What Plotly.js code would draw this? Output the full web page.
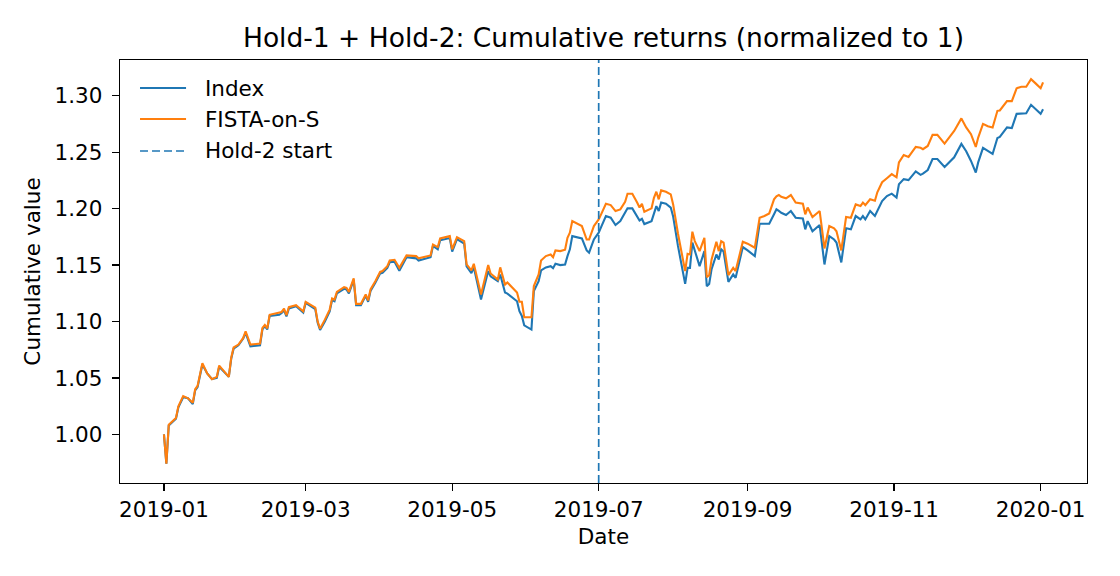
<!DOCTYPE html>
<html>
<head>
<meta charset="utf-8">
<script src="https://cdn.plot.ly/plotly-3.0.1.min.js"></script>
<style>
  html, body { margin: 0; padding: 0; background: #ffffff; }
  #chart { width: 1120px; height: 576px; }
</style>
</head>
<body>
<div id="chart"></div>
<script>
const dates = [
  "2019-01-01","2019-01-02","2019-01-03","2019-01-06","2019-01-07","2019-01-09","2019-01-11","2019-01-13","2019-01-14","2019-01-15",
  "2019-01-17","2019-01-19","2019-01-21","2019-01-23","2019-01-24","2019-01-26","2019-01-28","2019-01-29","2019-01-30","2019-02-01",
  "2019-02-03","2019-02-04","2019-02-06","2019-02-10","2019-02-11","2019-02-12","2019-02-13","2019-02-14","2019-02-18","2019-02-19",
  "2019-02-20","2019-02-21","2019-02-22","2019-02-25","2019-02-26","2019-02-28","2019-03-01","2019-03-05","2019-03-06","2019-03-07",
  "2019-03-09","2019-03-11","2019-03-12","2019-03-13","2019-03-14","2019-03-17","2019-03-18","2019-03-19","2019-03-21","2019-03-22",
  "2019-03-24","2019-03-26","2019-03-27","2019-03-28","2019-03-30","2019-04-01","2019-04-02","2019-04-04","2019-04-05","2019-04-07",
  "2019-04-09","2019-04-10","2019-04-12","2019-04-16","2019-04-17","2019-04-22","2019-04-23","2019-04-25","2019-04-26","2019-04-30",
  "2019-05-01","2019-05-03","2019-05-06","2019-05-07","2019-05-09","2019-05-10","2019-05-13","2019-05-16","2019-05-17","2019-05-20",
  "2019-05-21","2019-05-23","2019-05-24","2019-05-28","2019-05-29","2019-05-30","2019-05-31","2019-06-03","2019-06-04","2019-06-06",
  "2019-06-07","2019-06-09","2019-06-11","2019-06-12","2019-06-13","2019-06-15","2019-06-17","2019-06-18","2019-06-19","2019-06-20",
  "2019-06-24","2019-06-26","2019-06-27","2019-06-29","2019-07-01","2019-07-02","2019-07-04","2019-07-06","2019-07-08","2019-07-10",
  "2019-07-12","2019-07-13","2019-07-15","2019-07-17","2019-07-18","2019-07-19","2019-07-20","2019-07-23","2019-07-24","2019-07-25",
  "2019-07-26","2019-07-27","2019-07-29","2019-07-31","2019-08-01","2019-08-03","2019-08-06","2019-08-07","2019-08-08","2019-08-09",
  "2019-08-10","2019-08-12","2019-08-14","2019-08-15","2019-08-16","2019-08-17","2019-08-19","2019-08-20","2019-08-21","2019-08-22",
  "2019-08-24","2019-08-26","2019-08-27","2019-08-30","2019-09-01","2019-09-04","2019-09-06","2019-09-08","2019-09-10","2019-09-12",
  "2019-09-13","2019-09-14","2019-09-15","2019-09-17","2019-09-19","2019-09-21","2019-09-24","2019-09-25","2019-09-26","2019-09-28",
  "2019-10-01","2019-10-03","2019-10-05","2019-10-07","2019-10-08","2019-10-10","2019-10-12","2019-10-14","2019-10-16","2019-10-18",
  "2019-10-19","2019-10-20","2019-10-22","2019-10-24","2019-10-25","2019-10-26","2019-10-27","2019-10-29","2019-10-31","2019-11-02",
  "2019-11-03","2019-11-05","2019-11-07","2019-11-10","2019-11-12","2019-11-13","2019-11-15","2019-11-17","2019-11-19","2019-11-22",
  "2019-11-26","2019-11-29","2019-12-01","2019-12-03","2019-12-05","2019-12-06","2019-12-08","2019-12-10","2019-12-12","2019-12-14",
  "2019-12-15","2019-12-18","2019-12-20","2019-12-22","2019-12-24","2019-12-26","2019-12-28","2019-12-30","2020-01-01","2020-01-02"
];

const fistaValues = [
  1.000,0.974,1.0086,1.0145,1.025,1.034,1.032,1.028,1.040,1.043,
  1.063,1.054,1.049,1.051,1.061,1.056,1.051,1.068,1.077,1.0796,
  1.0855,1.0914,1.0796,1.0805,1.0943,1.097,1.094,1.106,1.1076,1.1085,
  1.1115,1.1056,1.1127,1.1145,1.1127,1.109,1.1175,1.1124,1.100,1.0937,
  1.1017,1.1106,1.1204,1.1195,1.1263,1.1305,1.1299,1.1263,1.1382,1.1157,
  1.1157,1.124,1.1187,1.1284,1.1358,1.144,1.1447,1.1491,1.1541,1.1547,
  1.1476,1.1512,1.1586,1.158,1.156,1.1586,1.1683,1.166,1.1737,1.1757,
  1.164,1.1748,1.1713,1.1506,1.1453,1.1512,1.124,1.150,1.1426,1.1373,
  1.148,1.1328,1.1346,1.1257,1.1175,1.1175,1.1038,1.1038,1.1314,1.1417,
  1.1541,1.158,1.1594,1.157,1.163,1.1624,1.1636,1.1742,1.1787,1.189,
  1.1846,1.1727,1.1727,1.1846,1.1905,1.195,1.2044,1.2032,1.1979,1.1994,
  1.2062,1.2133,1.2133,1.2054,1.201,1.2044,1.1973,1.2003,1.2097,1.215,
  1.2083,1.2162,1.215,1.2127,1.2038,1.178,1.1447,1.160,1.1594,1.1796,
  1.1713,1.1624,1.1742,1.1393,1.141,1.155,1.1707,1.1624,1.1713,1.170,
  1.1411,1.1476,1.1447,1.1707,1.169,1.1654,1.192,1.1935,1.1958,1.2083,
  1.211,1.2121,1.2105,1.2092,1.2121,1.2054,1.2044,1.195,1.201,1.1926,
  1.1979,1.1648,1.1846,1.1826,1.180,1.163,1.1926,1.192,1.2038,1.2023,
  1.2054,1.2032,1.2083,1.207,1.2145,1.219,1.2234,1.227,1.2306,1.2278,
  1.241,1.2476,1.2459,1.2547,1.254,1.2527,1.2556,1.2654,1.2654,1.2577,
  1.2689,1.280,1.272,1.266,1.2547,1.263,1.2751,1.273,1.272,1.2867,
  1.287,1.2953,1.2953,1.3067,1.308,1.308,1.3147,1.3108,1.3067,1.312
];

const indexValues = [
  1.000,0.974,1.008,1.014,1.024,1.033,1.032,1.027,1.039,1.042,
  1.062,1.054,1.049,1.050,1.060,1.055,1.051,1.067,1.076,1.079,
  1.085,1.090,1.078,1.079,1.093,1.096,1.093,1.105,1.106,1.1075,
  1.110,1.1045,1.1115,1.1135,1.1115,1.108,1.1165,1.111,1.099,1.0925,
  1.100,1.109,1.119,1.118,1.125,1.129,1.1285,1.125,1.137,1.1145,
  1.1145,1.123,1.1175,1.127,1.1345,1.1425,1.1432,1.1475,1.1525,1.153,
  1.145,1.149,1.157,1.156,1.154,1.157,1.167,1.164,1.172,1.174,
  1.162,1.173,1.169,1.149,1.143,1.148,1.1195,1.1447,1.140,1.1358,
  1.1417,1.1257,1.1248,1.118,1.1092,1.105,1.0967,1.0929,1.127,1.1358,
  1.1453,1.148,1.1491,1.1473,1.1512,1.150,1.1506,1.158,1.164,1.1757,
  1.1737,1.163,1.161,1.1727,1.1787,1.1837,1.1935,1.192,1.1855,1.189,
  1.1958,1.2003,1.2003,1.193,1.1896,1.191,1.1864,1.189,1.196,1.2023,
  1.1979,1.2054,1.2044,1.201,1.193,1.167,1.1334,1.1476,1.1476,1.170,
  1.163,1.1491,1.1624,1.1314,1.1334,1.1464,1.1594,1.155,1.164,1.162,
  1.1352,1.1417,1.1387,1.166,1.163,1.158,1.1867,1.1867,1.1867,1.195,
  1.1994,1.198,1.1964,1.1944,1.1979,1.192,1.1914,1.1817,1.189,1.180,
  1.1855,1.1506,1.1757,1.1727,1.170,1.1524,1.1826,1.1817,1.1935,1.1905,
  1.1935,1.1905,1.1979,1.1935,1.198,1.2038,1.2068,1.2112,1.2133,1.2098,
  1.2217,1.2262,1.2253,1.233,1.230,1.231,1.2343,1.244,1.244,1.237,
  1.2455,1.2574,1.2509,1.2423,1.232,1.241,1.2539,1.2512,1.2485,1.2627,
  1.2636,1.272,1.2714,1.284,1.2843,1.2845,1.292,1.288,1.284,1.288
];

const hold2Start = "2019-07-01";
const seriesNames = ["Index", "FISTA-on-S", "Hold-2 start"];
const xTickVals = ["2019-01-01","2019-03-01","2019-05-01","2019-07-01","2019-09-01","2019-11-01","2020-01-01"];
const xTickText = ["2019-01","2019-03","2019-05","2019-07","2019-09","2019-11","2020-01"];
const yTickVals = [1.00,1.05,1.10,1.15,1.20,1.25,1.30];

// axis ranges with 5% padding (matplotlib-like margins), computed from data
const tms = dates.map(d => new Date(d + "T00:00:00Z").getTime());
const tMin = Math.min(...tms), tMax = Math.max(...tms);
const tPad = (tMax - tMin) * 0.05;
const toIso = t => new Date(t).toISOString().slice(0, 19).replace("T", " ");
const allY = fistaValues.concat(indexValues);
const yMin = Math.min(...allY), yMax = Math.max(...allY);
const yPad = (yMax - yMin) * 0.05;
const yRange = [yMin - yPad, yMax + yPad];

const FONT = "DejaVu Sans, Verdana, sans-serif";
const FS = 21.5;
const colors = ["#1f77b4", "#ff7f0e", "#1f77b4"];
const dashes = ["solid", "solid", "8px,4px"];
const widths = [2.1, 2.1, 1.7];

const traces = [
  { x: dates, y: indexValues, type: "scatter", mode: "lines", name: seriesNames[0],
    line: { color: colors[0], width: widths[0] }, showlegend: false },
  { x: dates, y: fistaValues, type: "scatter", mode: "lines", name: seriesNames[1],
    line: { color: colors[1], width: widths[1] }, showlegend: false },
  { x: [hold2Start, hold2Start], y: yRange, type: "scatter", mode: "lines", name: seriesNames[2],
    line: { color: colors[2], width: widths[2], dash: dashes[2] }, showlegend: false }
];

// hand-placed legend (upper left, no frame), like matplotlib
const legRowsY = [0.9338, 0.8605, 0.7849];
const shapes = [], annotations = [];
seriesNames.forEach((nm, i) => {
  shapes.push({ type: "line", xref: "paper", yref: "paper",
    x0: 0.0207, x1: 0.0683, y0: legRowsY[i], y1: legRowsY[i],
    line: { color: colors[i], width: widths[i], dash: dashes[i] } });
  annotations.push({ text: nm, xref: "paper", yref: "paper", x: 0.0858, y: legRowsY[i],
    xanchor: "left", yanchor: "middle", showarrow: false,
    font: { family: FONT, size: FS, color: "#000000" } });
});

const layout = {
  width: 1120, height: 576,
  margin: { l: 120, r: 33, t: 60, b: 93 },
  paper_bgcolor: "#ffffff", plot_bgcolor: "#ffffff",
  font: { family: FONT, size: FS, color: "#000000" },
  title: { text: "Hold-1 + Hold-2: Cumulative returns (normalized to 1)",
           font: { family: FONT, size: 26.5, color: "#000000" },
           x: 0.5, xref: "paper", xanchor: "center", y: 1 - 38/576, yref: "container", yanchor: "middle" },
  showlegend: false,
  shapes: shapes,
  annotations: annotations,
  xaxis: {
    type: "date", range: [toIso(tMin - tPad), toIso(tMax + tPad)],
    tickvals: xTickVals, ticktext: xTickText,
    ticks: "outside", ticklen: 7, tickwidth: 1.3, tickcolor: "#000000",
    showline: true, linecolor: "#000000", linewidth: 1.3, mirror: true,
    showgrid: false, zeroline: false,
    tickfont: { family: FONT, size: FS, color: "#000000" },
    title: { text: "Date", font: { family: FONT, size: FS, color: "#000000" }, standoff: 8 }
  },
  yaxis: {
    range: yRange,
    tickvals: yTickVals, tickformat: ".2f",
    ticks: "outside", ticklen: 7, tickwidth: 1.3, tickcolor: "#000000",
    ticklabelstandoff: 5,
    showline: true, linecolor: "#000000", linewidth: 1.3, mirror: true,
    showgrid: false, zeroline: false,
    tickfont: { family: FONT, size: FS, color: "#000000" },
    title: { text: "Cumulative value", font: { family: FONT, size: FS, color: "#000000" }, standoff: 8 }
  }
};

Plotly.newPlot("chart", traces, layout, { displayModeBar: false, staticPlot: true });
</script>
</body>
</html>
